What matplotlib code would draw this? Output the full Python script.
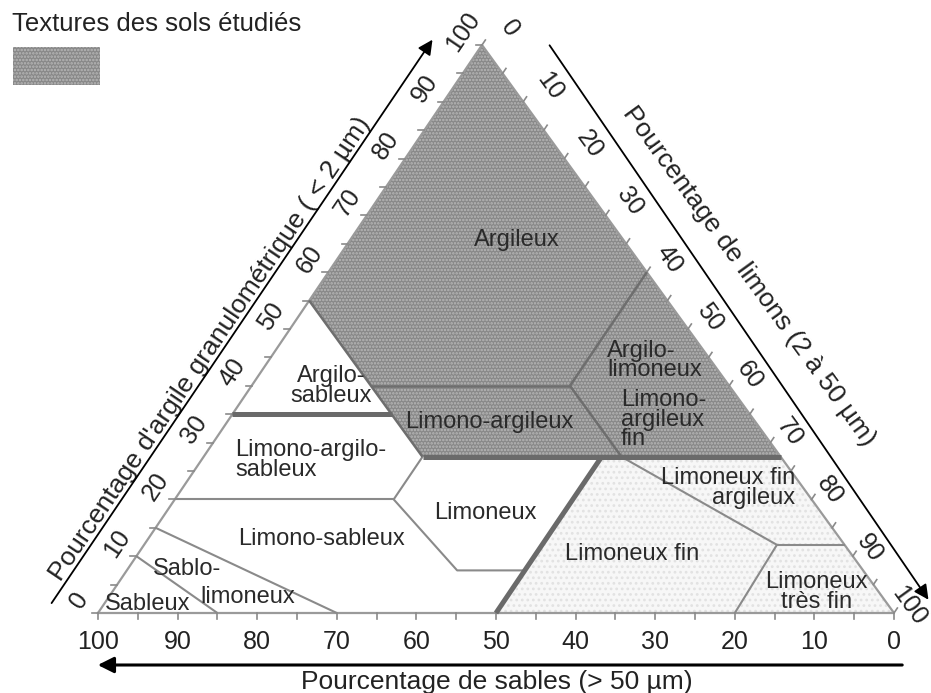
import matplotlib
matplotlib.use("Agg")
import matplotlib.pyplot as plt
from matplotlib.patches import Polygon, Rectangle
import numpy as np

plt.rcParams['font.family'] = ['Liberation Sans', 'DejaVu Sans']
plt.rcParams['hatch.linewidth'] = 1.2

# Données : sommets des classes en (argile %, sable %), le limon est le reste
graduations = list(range(0, 101, 10))
zone_etudiee = [(55, 45), (100, 0), (27.5, 0), (27.5, 45)]
zone_limons_fins = [(27.5, 22.5), (27.5, 0), (0, 0), (0, 50)]

limites_epaisses = [
    [(35, 65), (35, 45)],
    [(27.5, 45), (27.5, 0)],
    [(27.5, 22.5), (0, 50)],
]
limites_moyennes = [
    [(55, 45), (27.5, 45)],
    [(40, 45), (40, 20)],
    [(60, 0), (40, 20)],
    [(40, 20), (27.5, 20)],
]
limites_fines = [
    [(27.5, 45), (20, 52.5), (7.5, 51), (7.5, 42.5)],
    [(20, 80), (20, 52.5)],
    [(15, 85), (0, 70)],
    [(10, 90), (0, 85)],
    [(27.5, 20), (12, 8.5), (0, 20)],
    [(12, 8.5), (12, 0)],
]

# (texte, argile, sable, alignement)
classes = [
    ("Argileux", 65.7, 13.4, 'center'),
    ("Argilo-\nsableux", 40, 50, 'center'),
    ("Limono-argileux", 33.6, 33.4, 'center'),
    ("Argilo-\nlimoneux", 44.5, 13.0, 'left'),
    ("Limono-\nargileux\nfin", 34, 16.7, 'left'),
    ("Limono-argilo-\nsableux", 26.9, 68.8, 'left'),
    ("Limoneux", 17.6, 42.2, 'center'),
    ("Limono-sableux", 13.0, 65.2, 'center'),
    ("Sablo-", 7.7, 84.8, 'center'),
    ("limoneux", 2.8, 79.8, 'center'),
    ("Sableux", 1.6, 92.9, 'center'),
    ("Limoneux fin", 10.4, 27.5, 'center'),
    ("Limoneux fin\nargileux", 22.0, 1.07, 'right'),
    ("Limoneux\ntrès fin", 3.7, 7.8, 'center'),
]

# Géométrie du triangle (en pixels)
BL = np.array([98.0, 613.0])
BR = np.array([894.0, 613.0])
TOP = np.array([482.0, 45.0])


def tern(c, s):
    # argile/sable -> position dans la figure
    t = 100 - c - s
    return (s * BL + t * BR + c * TOP) / 100


u_g = (TOP - BL) / np.linalg.norm(TOP - BL)
n_g = np.array([u_g[1], -u_g[0]])
u_d = (BR - TOP) / np.linalg.norm(BR - TOP)
n_d = np.array([-u_d[1], u_d[0]])
n_d = -n_d if n_d[0] < 0 else n_d
ang_g = np.degrees(np.arctan2(-u_g[1], u_g[0]))
ang_d = np.degrees(np.arctan2(-u_d[1], u_d[0]))

fig = plt.figure(figsize=(9.31, 6.93), dpi=100)
ax = fig.add_axes([0, 0, 1, 1])
ax.set_xlim(0, 931)
ax.set_ylim(693, 0)
ax.axis('off')

gris = '#888888'
pts = np.array([tern(c, s) for c, s in zone_etudiee])
ax.add_patch(Polygon(pts, closed=True, facecolor=gris, edgecolor='none', zorder=1))
ax.add_patch(Polygon(pts, closed=True, facecolor='none', edgecolor='#b8b8b8', hatch='.....', lw=0, zorder=1.1))
pts = np.array([tern(c, s) for c, s in zone_limons_fins])
ax.add_patch(Polygon(pts, closed=True, facecolor='#f7f7f7', edgecolor='none', zorder=1))
ax.add_patch(Polygon(pts, closed=True, facecolor='none', edgecolor='#e2e2e2', hatch='...', lw=0, zorder=1.1))

# contour du triangle
tri = np.array([BL, BR, TOP, BL])
ax.plot(tri[:, 0], tri[:, 1], color='#9a9a9a', lw=1.6, zorder=3)

for lignes, col, lw in [(limites_fines, '#8a8a8a', 1.5),
                        (limites_moyennes, '#6e6e6e', 1.8),
                        (limites_epaisses, '#6a6a6a', 3.6)]:
    for ligne in lignes:
        p = np.array([tern(c, s) for c, s in ligne])
        ax.plot(p[:, 0], p[:, 1], color=col, lw=lw, solid_capstyle='butt', zorder=4)

# graduations
for v in range(0, 101, 5):
    p = tern(v, 100 - v)
    ax.plot([p[0], p[0] - 6], [p[1], p[1]], color='#8a8a8a', lw=1.2, zorder=3)
    p = tern(0, v)
    ax.plot([p[0], p[0]], [p[1], p[1] + 6], color='#8a8a8a', lw=1.2, zorder=3)
    p = tern(100 - v, 0)
    ax.plot([p[0], p[0] + 6 * u_g[0]], [p[1], p[1] + 6 * u_g[1]], color='#8a8a8a', lw=1.2, zorder=3)

for v in graduations:
    p = tern(v, 100 - v) + 23 * n_g
    ax.text(p[0], p[1], str(v), fontsize=18, rotation=ang_g, rotation_mode='anchor',
            ha='center', va='center', color='#222222')
    p = tern(0, v)
    ax.text(p[0], 642, str(v), fontsize=18, ha='center', va='center', color='#222222')
    p = tern(100 - v, 0) + (32 - 15 * v / 100) * n_d + 3 * u_d
    ax.text(p[0], p[1], str(v), fontsize=18, rotation=ang_d, rotation_mode='anchor',
            ha='center', va='center', color='#222222')

for texte, c, s, ha in classes:
    p = tern(c, s)
    ax.text(p[0], p[1], texte, fontsize=17, ha=ha, va='center', multialignment=ha,
            linespacing=0.85, color='#2a2a2a', zorder=5)

# titres des axes et flèches
p = BL + 0.41 * np.linalg.norm(TOP - BL) * u_g + 55 * n_g
ax.text(p[0], p[1], "Pourcentage d'argile granulométrique ( < 2 µm)", fontsize=19,
        rotation=ang_g, rotation_mode='anchor', ha='center', va='center', color='#222222')
a = BL - 0.03 * np.linalg.norm(TOP - BL) * u_g + 44 * n_g
b = BL + 0.97 * np.linalg.norm(TOP - BL) * u_g + 44 * n_g
ax.annotate('', xy=b, xytext=a,
            arrowprops=dict(arrowstyle='-|>', color='black', lw=1.3, mutation_scale=22))

p = TOP + 0.49 * np.linalg.norm(BR - TOP) * u_d + 80 * n_d
ax.text(p[0], p[1], "Pourcentage de limons (2 à 50 µm)", fontsize=19,
        rotation=ang_d, rotation_mode='anchor', ha='center', va='center', color='#222222')
ax.annotate('', xy=(930, 602), xytext=(548, 43),
            arrowprops=dict(arrowstyle='-|>', color='black', lw=1.3, mutation_scale=22))

ax.text(497, 682, "Pourcentage de sables (> 50 µm)", fontsize=19, ha='center', va='center',
        color='#222222')
ax.annotate('', xy=(95, 665), xytext=(905, 665),
            arrowprops=dict(arrowstyle='-|>', color='black', lw=2.2, mutation_scale=24))

# légende
ax.text(12, 24, "Textures des sols étudiés", fontsize=18.5, ha='left', va='center', color='#222222')
ax.add_patch(Rectangle((13, 47), 87, 38, facecolor=gris, edgecolor='none'))
ax.add_patch(Rectangle((13, 47), 87, 38, facecolor='none', edgecolor='#b8b8b8', hatch='.....', lw=0))

fig.savefig('out.png', dpi=100)
